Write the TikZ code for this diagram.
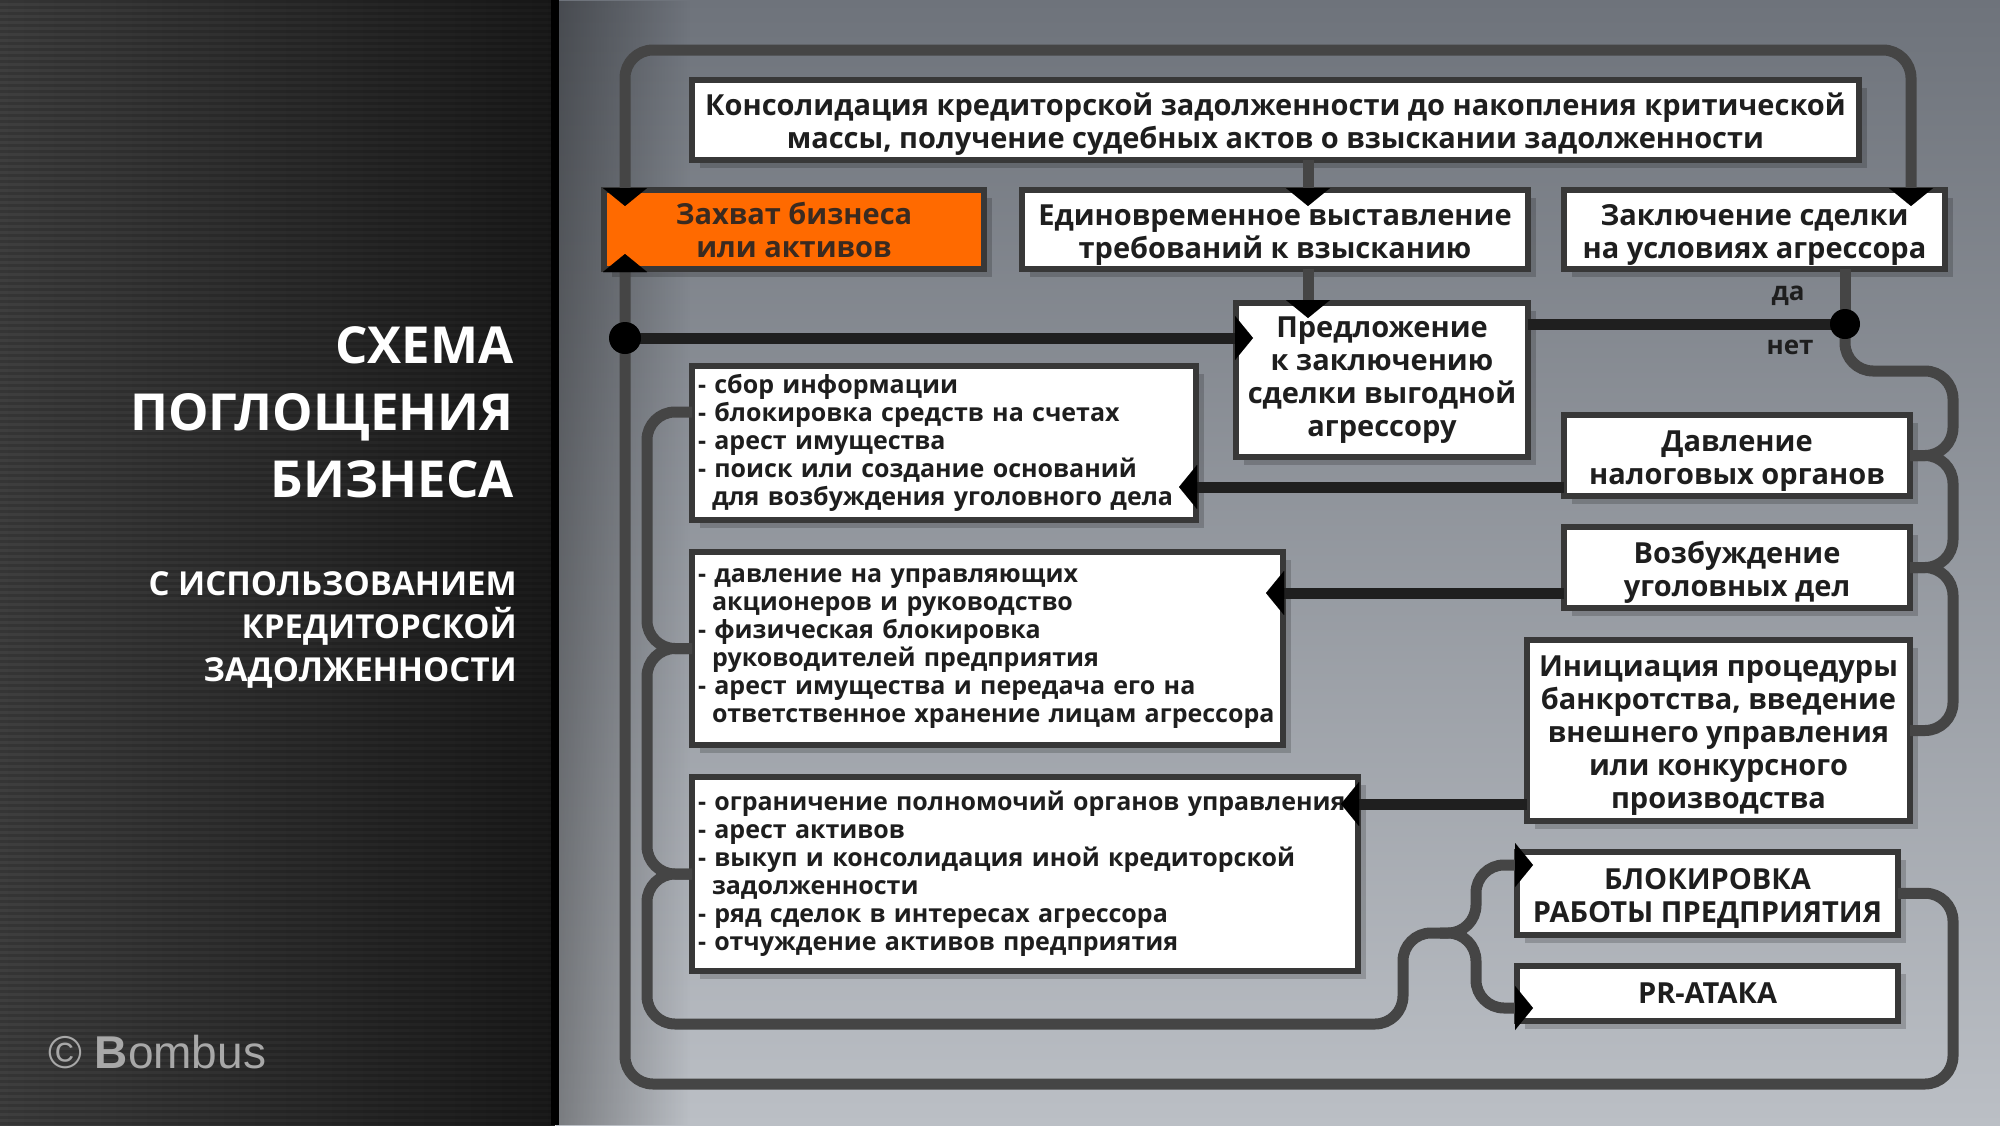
\documentclass[tikz,border=0pt]{standalone}
\usepackage{fontspec}
\setmainfont{Open Sans}
\newfontfamily\bombusfont{Liberation Sans}
\usetikzlibrary{arrows.meta,calc,shadows,fadings}

\definecolor{lineC}{HTML}{454545}
\definecolor{frameC}{HTML}{383838}
\definecolor{orangeC}{HTML}{FF6A00}
\definecolor{textC}{HTML}{1E1E1E}
\definecolor{otextC}{HTML}{3A2A20}
\definecolor{panelL}{HTML}{3E3E3E}
\definecolor{panelR}{HTML}{1A1A1A}
\definecolor{areaT}{HTML}{6E737B}
\definecolor{areaB}{HTML}{BBBFC5}
\definecolor{bombusC}{HTML}{A8A8A8}

\newcommand\boxfont{\fontsize{29}{33}\selectfont\bfseries}
\newcommand\listfont{\fontsize{25}{28}\selectfont\bfseries}
\newcommand\ind{\hspace*{14pt}}
\newcommand\toppad{\rule{0pt}{31pt}}

\tikzset{
  box/.style={draw=frameC, line width=6, fill=white, anchor=north west,
    outer sep=0, inner sep=4, align=center, text=textC, font=\boxfont,
    drop shadow={shadow xshift=8pt, shadow yshift=-8pt, fill=black, opacity=0.18}},
  listbox/.style={box, align=left, font=\listfont, inner xsep=6},
  conn/.style={draw=lineC, line width=11, rounded corners=28},
  blk/.style={draw=black!88, line width=11},
  arr/.style={-{Triangle[width=44pt,length=18pt,line width=0.01pt,color=black]}},
  lbl/.style={inner sep=0, text=textC, font=\fontsize{26}{28}\selectfont\bfseries}
}

\begin{document}
\begin{tikzpicture}[x=1pt,y=-1pt]
\useasboundingbox (0,0) rectangle (2000,1125);
% background
\shade[left color=panelL, right color=panelR] (0,0) rectangle (555,1125);
\foreach \i in {0,...,187} \fill[black,opacity=0.14] (0,\i*6) rectangle (553,\i*6+3);
\shade[top color=areaT, bottom color=areaB] (556,0) rectangle (2000,1125);
\fill[black, opacity=0.35, path fading=east] (558,0) rectangle (690,1125);
\fill[black] (551,0) rectangle (559,1125);

% left panel texts
\node[anchor=east, align=right, inner sep=0, text=white,
  font=\fontsize{51}{67}\selectfont\bfseries] (title) at (514,412)
  {СХЕМА\\ПОГЛОЩЕНИЯ\\БИЗНЕСА};
\node[anchor=east, align=right, inner sep=0, text=white,
  font=\fontsize{33}{43}\selectfont\bfseries] (subtitle) at (517,630)
  {С ИСПОЛЬЗОВАНИЕМ\\КРЕДИТОРСКОЙ\\ЗАДОЛЖЕННОСТИ};
\node[anchor=west, inner sep=0, text=bombusC,
  font=\bombusfont\fontsize{46}{50}\selectfont] (bombus) at (48,1052)
  {© \textbf{B}ombus};

% boxes
\node[box, minimum width=1167, minimum height=80] (top) at (692,80)
  {\toppad Консолидация кредиторской задолженности до накопления критической\\массы, получение судебных актов о взыскании задолженности};
\node[box, fill=orangeC, text=otextC, minimum width=380, minimum height=79] (zahvat) at (604,190)
  {Захват бизнеса\\или активов};
\node[box, minimum width=506, minimum height=79] (edin) at (1022,190)
  {\toppad Единовременное выставление\\требований к взысканию};
\node[box, minimum width=381, minimum height=79] (zakl) at (1564,190)
  {\toppad Заключение сделки\\на условиях агрессора};
\node[box, minimum width=292, minimum height=154] (predl) at (1236,303)
  {Предложение\\к заключению\\сделки выгодной\\агрессору};
\node[listbox, minimum height=154, text width=492] (list1) at (692,366)
  {- сбор информации\\- блокировка средств на счетах\\- арест имущества\\- поиск или создание оснований\\\ind для возбуждения уголовного дела};
\node[box, minimum width=346, minimum height=81] (davl) at (1564,415)
  {\toppad Давление\\налоговых органов};
\node[listbox, minimum height=193, text width=579] (list2) at (692,552)
  {- давление на управляющих\\\ind акционеров и руководство\\- физическая блокировка\\\ind руководителей предприятия\\- арест имущества и передача его на\\\ind ответственное хранение лицам агрессора};
\node[box, minimum width=346, minimum height=81] (vozb) at (1564,527)
  {\toppad Возбуждение\\уголовных дел};
\node[box, minimum width=383, minimum height=181] (inic) at (1527,640)
  {\toppad Инициация процедуры\\банкротства, введение\\внешнего управления\\или конкурсного\\производства};
\node[listbox, minimum height=194, text width=654] (list3) at (692,777)
  {- ограничение полномочий органов управления\\- арест активов\\- выкуп и консолидация иной кредиторской\\\ind задолженности\\- ряд сделок в интересах агрессора\\- отчуждение активов предприятия};
\node[box, minimum width=381, minimum height=83] (blok) at (1517,852)
  {\toppad БЛОКИРОВКА\\РАБОТЫ ПРЕДПРИЯТИЯ};
\node[box, minimum width=381, minimum height=55] (pr) at (1517,966)
  {PR-АТАКА};

% coordinates
\coordinate (dot1) at (625,338);
\coordinate (dot2) at (1845,324);
\coordinate (rb) at (1953,371);
\coordinate (lb) at (647,1024);
\coordinate (fk) at (1476,933);
\coordinate (s1) at ($(davl.south west)+(0,-9)$);
\coordinate (s2) at ($(vozb.south west)+(0,-15)$);
\coordinate (s3) at ($(inic.south west)+(0,-17)$);
\coordinate (l1) at ($(list1.north west)+(0,46)$);
\coordinate (bA) at ($(blok.north west)+(16,13)$);
\coordinate (pA) at ($(pr.south west)+(16,-13)$);

% top loop (Zahvat <-> Zakluchenie)
\draw[conn, {Triangle[width=44pt,length=18pt,line width=0.01pt,color=black]}-{Triangle[width=44pt,length=18pt,line width=0.01pt,color=black]}]
  ($(zahvat.north west)+(21,16)$) -- (625,50) -- (1911,50) -- ($(zakl.north east)+(-34,16)$);
% top -> edin -> predl
\draw[conn, arr] ($(top.south west)+(616,0)$) -- ($(edin.north west)+(286,16)$);
\draw[conn, arr] ($(edin.south west)+(286,0)$) -- ($(predl.north west)+(72,15)$);
% dot1 -> predl
\draw[blk, arr] (dot1) -- ($(predl.west |- dot1)+(17,0)$);
% predl -> dot2, zakl -> dot2
\draw[blk] (predl.east |- dot2) -- (dot2);
\draw[conn] ($(zakl.south west)+(281,0)$) -- (dot2);
% right bracket
\draw[conn] (dot2) -- (1845,371) -- (rb) -- (rb |- davl.east) -- (davl.east);
\draw[conn] (davl.east) -- (rb |- davl.east) -- (rb |- vozb.east) -- (vozb.east);
\draw[conn] (vozb.east) -- (rb |- vozb.east) -- (rb |- inic.east) -- (inic.east);
% right boxes -> lists
\draw[blk, arr] (s1) -- ($(list1.east |- s1)+(-17,0)$);
\draw[blk, arr] (s2) -- ($(list2.east |- s2)+(-17,0)$);
\draw[blk, arr] (s3) -- ($(list3.east |- s3)+(-17,0)$);
% left bracket
\draw[conn] (l1) -- (lb |- l1) -- (lb |- list2.west) -- (list2.west);
\draw[conn] (list2.west) -- (lb |- list2.west) -- (lb |- list3.west) -- (list3.west);
\draw[conn, arr] (list3.west) -- (lb |- list3.west) -- (lb) -- (1403,1024) -- (1403,933) -- (fk) -- (fk |- bA) -- (bA);
\draw[conn, arr] (1440,933) -- (fk) -- (fk |- pA) -- (pA);
% outer loop
\draw[conn, arr] (blok.east) -- (1953,893) -- (1953,1084) -- (625,1084) -- ($(zahvat.south west)+(21,-15)$);
% junction dots
\fill[black] (dot1) circle[radius=16];
\fill[black] (dot2) circle[radius=15];
% labels
\node[lbl] (da) at (1788,296) {да};
\node[lbl] (net) at (1790,347) {нет};
\end{tikzpicture}
\end{document}
